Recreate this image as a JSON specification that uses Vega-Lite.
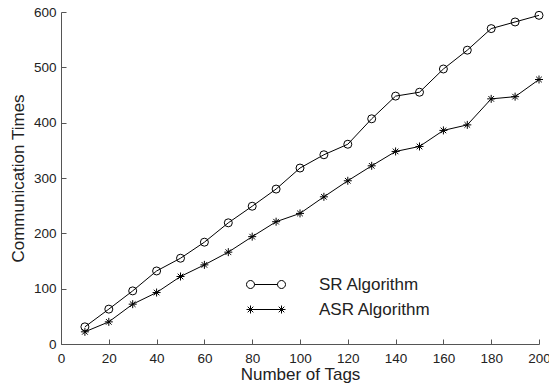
{
  "$schema": "https://vega.github.io/schema/vega-lite/v6.json",
  "autosize": "none",
  "padding": {"left": 61, "top": 12, "right": 10, "bottom": 39},
  "width": 478,
  "height": 332,
  "background": "white",
  "config": {
    "view": {"stroke": null},
    "font": "Liberation Sans",
    "axis": {
      "grid": false,
      "domainColor": "#555555",
      "tickColor": "#555555",
      "tickSize": -5,
      "labelFont": "Liberation Sans",
      "labelFontSize": 13.5,
      "labelColor": "#222222",
      "titleFont": "Liberation Sans",
      "titleFontSize": 17,
      "titleFontWeight": "normal",
      "titleColor": "#222222"
    }
  },
  "data": {
    "values": [
      {"tags": 10, "times": 31, "series": "SR Algorithm"},
      {"tags": 20, "times": 63, "series": "SR Algorithm"},
      {"tags": 30, "times": 96, "series": "SR Algorithm"},
      {"tags": 40, "times": 132, "series": "SR Algorithm"},
      {"tags": 50, "times": 155, "series": "SR Algorithm"},
      {"tags": 60, "times": 184, "series": "SR Algorithm"},
      {"tags": 70, "times": 219, "series": "SR Algorithm"},
      {"tags": 80, "times": 249, "series": "SR Algorithm"},
      {"tags": 90, "times": 280, "series": "SR Algorithm"},
      {"tags": 100, "times": 318, "series": "SR Algorithm"},
      {"tags": 110, "times": 342, "series": "SR Algorithm"},
      {"tags": 120, "times": 361, "series": "SR Algorithm"},
      {"tags": 130, "times": 407, "series": "SR Algorithm"},
      {"tags": 140, "times": 448, "series": "SR Algorithm"},
      {"tags": 150, "times": 455, "series": "SR Algorithm"},
      {"tags": 160, "times": 497, "series": "SR Algorithm"},
      {"tags": 170, "times": 531, "series": "SR Algorithm"},
      {"tags": 180, "times": 570, "series": "SR Algorithm"},
      {"tags": 190, "times": 582, "series": "SR Algorithm"},
      {"tags": 200, "times": 594, "series": "SR Algorithm"},
      {"tags": 10, "times": 22, "series": "ASR Algorithm"},
      {"tags": 20, "times": 40, "series": "ASR Algorithm"},
      {"tags": 30, "times": 72, "series": "ASR Algorithm"},
      {"tags": 40, "times": 93, "series": "ASR Algorithm"},
      {"tags": 50, "times": 122, "series": "ASR Algorithm"},
      {"tags": 60, "times": 143, "series": "ASR Algorithm"},
      {"tags": 70, "times": 166, "series": "ASR Algorithm"},
      {"tags": 80, "times": 194, "series": "ASR Algorithm"},
      {"tags": 90, "times": 221, "series": "ASR Algorithm"},
      {"tags": 100, "times": 236, "series": "ASR Algorithm"},
      {"tags": 110, "times": 266, "series": "ASR Algorithm"},
      {"tags": 120, "times": 295, "series": "ASR Algorithm"},
      {"tags": 130, "times": 322, "series": "ASR Algorithm"},
      {"tags": 140, "times": 348, "series": "ASR Algorithm"},
      {"tags": 150, "times": 357, "series": "ASR Algorithm"},
      {"tags": 160, "times": 386, "series": "ASR Algorithm"},
      {"tags": 170, "times": 396, "series": "ASR Algorithm"},
      {"tags": 180, "times": 443, "series": "ASR Algorithm"},
      {"tags": 190, "times": 447, "series": "ASR Algorithm"},
      {"tags": 200, "times": 478, "series": "ASR Algorithm"}
    ]
  },
  "encoding": {
    "x": {
      "field": "tags", "type": "quantitative",
      "scale": {"domain": [0, 200], "nice": false},
      "axis": {"values": [0, 20, 40, 60, 80, 100, 120, 140, 160, 180, 200], "title": "Number of Tags", "labelPadding": 12, "titlePadding": 2, "labelFlush": false}
    },
    "y": {
      "field": "times", "type": "quantitative",
      "scale": {"domain": [0, 600], "nice": false},
      "axis": {"values": [0, 100, 200, 300, 400, 500, 600], "title": "Communication Times", "labelPadding": 10, "titlePadding": 6}
    }
  },
  "layer": [
    {
      "mark": {"type": "line", "color": "black", "strokeWidth": 1},
      "encoding": {"detail": {"field": "series"}}
    },
    {
      "mark": {"type": "point", "filled": false, "color": "black", "strokeWidth": 1, "size": 64, "opacity": 1},
      "encoding": {
        "shape": {
          "field": "series", "type": "nominal",
          "scale": {"domain": ["SR Algorithm", "ASR Algorithm"], "range": ["circle", "M-1,0H1M0,-1V1M-0.7,-0.7L0.7,0.7M-0.7,0.7L0.7,-0.7"]},
          "legend": null
        }
      }
    },
    {
      "mark": {"type": "point", "filled": false, "color": "black", "strokeWidth": 1, "size": 1, "opacity": 0},
      "encoding": {
        "shape": {
          "field": "series", "type": "nominal",
          "scale": {"domain": ["SR Algorithm", "ASR Algorithm"], "range": [
            "M-1.95,0A0.4,0.4 0 1,0 -1.15,0A0.4,0.4 0 1,0 -1.95,0M-1.15,0H1.15M1.15,0A0.4,0.4 0 1,0 1.95,0A0.4,0.4 0 1,0 1.15,0",
            "M-1.95,0H1.95M-1.55,-0.4V0.4M-1.83,-0.28L-1.27,0.28M-1.83,0.28L-1.27,-0.28M1.55,-0.4V0.4M1.27,-0.28L1.83,0.28M1.27,0.28L1.83,-0.28"
          ]},
          "legend": {
            "title": null,
            "orient": "none",
            "legendX": 194.5,
            "legendY": 262,
            "padding": 0,
            "symbolSize": 400,
            "symbolOpacity": 1,
            "symbolStrokeColor": "black",
            "symbolFillColor": "transparent",
            "symbolStrokeWidth": 1,
            "labelOffset": 42.5,
            "labelFont": "Liberation Sans",
            "labelFontSize": 17,
            "labelColor": "#222222",
            "rowPadding": 6,
            "labelLimit": 300
          }
        }
      }
    }
  ],
  "resolve": {"scale": {"shape": "independent"}}
}
